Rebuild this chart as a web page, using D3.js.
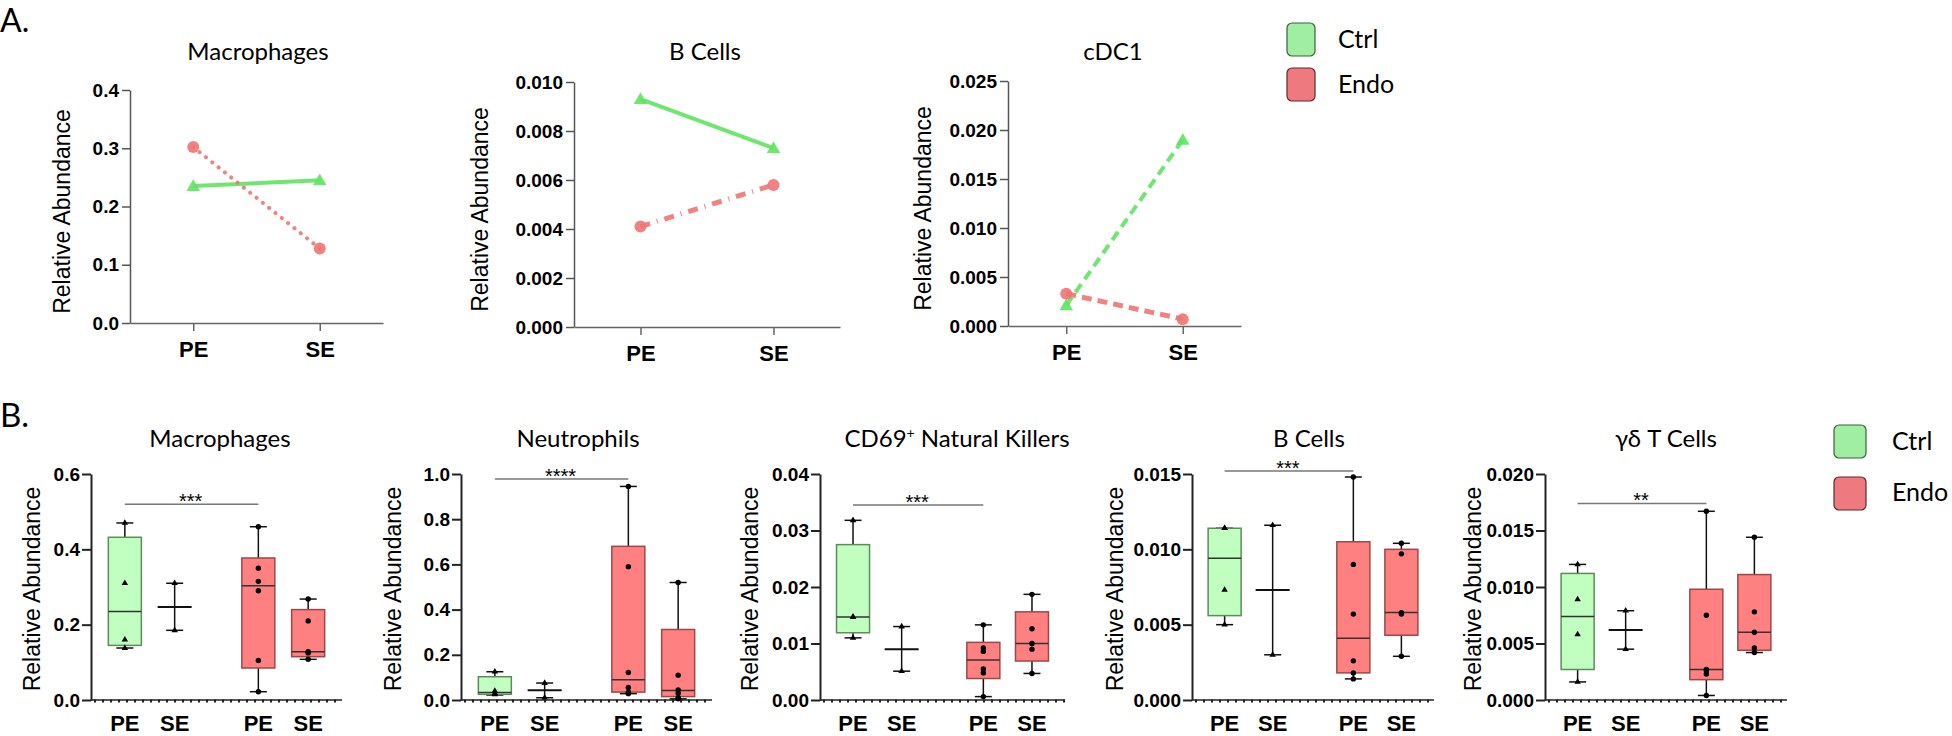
<!DOCTYPE html>
<html>
<head>
<meta charset="utf-8">
<script src="https://cdn.jsdelivr.net/npm/d3@7"></script>
<style>
  body { margin: 0; background: #fff; }
  svg { display: block; }
</style>
</head>
<body>
<div class="main"></div>
<script>
// ---- data: panel A (group means) ----
var lineCats = ["PE", "SE"];
var lineTitles = ["Macrophages", "B Cells", "cDC1"];
var lineCtrl = [[0.235, 0.245], [0.0093, 0.0073], [0.0021, 0.019]];
var lineEndo = [[0.302, 0.128], [0.0041, 0.0058], [0.0033, 0.0007]];
var lineYMax = [0.4, 0.010, 0.025];
var lineTicks = [
  [0, 0.1, 0.2, 0.3, 0.4],
  [0, 0.002, 0.004, 0.006, 0.008, 0.010],
  [0, 0.005, 0.010, 0.015, 0.020, 0.025]
];
var lineTickFmt = [".1f", ".3f", ".3f"];

// ---- data: panel B (box plots) ----
var groups = ["Ctrl", "Endo"];
var timepoints = ["PE", "SE"];
var boxTitles = ["Macrophages", "Neutrophils", "CD69+ Natural Killers", "B Cells", "γδ T Cells"];
var boxYMax = [0.6, 1.0, 0.04, 0.015, 0.02];
var boxTickStep = [0.2, 0.2, 0.01, 0.005, 0.005];
var boxTickFmt = [".1f", ".1f", ".2f", ".3f", ".3f"];
// [min, q1, median, q3, max] for Ctrl-PE, Ctrl-SE, Endo-PE, Endo-SE
var boxStats = [
  [[0.138, 0.145, 0.235, 0.432, 0.47], [0.185, null, 0.247, null, 0.31], [0.022, 0.085, 0.303, 0.377, 0.46], [0.108, 0.115, 0.128, 0.24, 0.268]],
  [[0.022, 0.025, 0.033, 0.103, 0.125], [0.01, null, 0.043, null, 0.075], [0.028, 0.035, 0.09, 0.68, 0.945], [0.005, 0.015, 0.042, 0.312, 0.52]],
  [[0.011, 0.0119, 0.0147, 0.0275, 0.0318], [0.0051, null, 0.009, null, 0.013], [0.0006, 0.0038, 0.0071, 0.0102, 0.0133], [0.0047, 0.0069, 0.01, 0.0156, 0.0187]],
  [[0.005, 0.0056, 0.0094, 0.0114, 0.0114], [0.003, null, 0.0073, null, 0.0116], [0.0014, 0.0018, 0.0041, 0.0105, 0.0148], [0.0029, 0.0043, 0.0058, 0.01, 0.0104]],
  [[0.0016, 0.0027, 0.0074, 0.0112, 0.012], [0.0045, null, 0.0062, null, 0.0079], [0.0004, 0.0018, 0.0027, 0.0098, 0.0167], [0.0042, 0.0044, 0.006, 0.0111, 0.0144]]
];
var boxPoints = [
  [[0.47, 0.31, 0.16, 0.138], [0.31, 0.185], [0.46, 0.35, 0.315, 0.29, 0.105, 0.022], [0.268, 0.21, 0.128, 0.125, 0.108]],
  [[0.125, 0.04, 0.03, 0.025], [0.075, 0.01], [0.945, 0.59, 0.122, 0.055, 0.035, 0.028], [0.52, 0.11, 0.045, 0.03, 0.01, 0.005]],
  [[0.0318, 0.0147, 0.0147, 0.011], [0.013, 0.0051], [0.0133, 0.0092, 0.0086, 0.0055, 0.0048, 0.0006], [0.0187, 0.0126, 0.01, 0.009, 0.0047]],
  [[0.0114, 0.0114, 0.0073, 0.005], [0.0116, 0.003], [0.0148, 0.009, 0.0057, 0.0026, 0.0018, 0.0014], [0.0104, 0.0097, 0.0058, 0.0057, 0.0029]],
  [[0.012, 0.0089, 0.0058, 0.0016], [0.0079, 0.0045], [0.0167, 0.0075, 0.0027, 0.0026, 0.0023, 0.0004], [0.0144, 0.0078, 0.006, 0.0046, 0.0042]]
];
var sigLevel = [0.52, 0.978, 0.0345, 0.0152, 0.0174];
var sigStars = ["***", "****", "***", "***", "**"];

// ---- layout ----
var W = 1952, H = 736;
var lineLayout = [
  {ax: 130, w: 253, top: 90, bottom: 323, titleX: 258, labelX: 62, ctrlDash: null, endoDash: "0.1,8"},
  {ax: 574, w: 266, top: 82, bottom: 327, titleX: 705, labelX: 480, ctrlDash: null, endoDash: "10,7,1,7"},
  {ax: 1008, w: 233, top: 81, bottom: 326, titleX: 1113, labelX: 923, ctrlDash: "10,6", endoDash: "10,6"}
];
var boxLayout = [
  {ax: 91, w: 251, titleX: 220, labelX: 32},
  {ax: 461, w: 251, titleX: 578, labelX: 393},
  {ax: 820, w: 245, titleX: 957, labelX: 750},
  {ax: 1192, w: 242, titleX: 1309, labelX: 1115},
  {ax: 1545, w: 242, titleX: 1666, labelX: 1473}
];
var boxTop = 474, boxBottom = 700;

var lineGreen = "#5fe35f", lineRed = "#f07474";
var boxFill = {Ctrl: "#c0ffc0", Endo: "#ff8080"};
var boxStroke = {Ctrl: "#5e8a5e", Endo: "#9a4848"};
var legendFill = {Ctrl: "#a0eea2", Endo: "#ee7a80"};
var legendStroke = {Ctrl: "#3f5f3f", Endo: "#5a2a2a"};

var titleFont = "Lato, 'Open Sans', sans-serif";
var armFont = "'Liberation Sans', Arial, sans-serif";
var narrowFont = "'Liberation Sans Narrow', 'Liberation Sans', Arial, sans-serif";

var svg = d3.select(".main").append("svg")
    .attr("width", W)
    .attr("height", H)
    .style("background", "#fff");

// panel letters
svg.append("text").attr("x", 0).attr("y", 32).text("A.")
    .style("font-family", titleFont).style("font-size", "32px");
svg.append("text").attr("x", 0).attr("y", 427).text("B.")
    .style("font-family", titleFont).style("font-size", "33px");

// ============ panel A ============
lineLayout.forEach(function(L, i) {
  var g = svg.append("g");
  var y = d3.scaleLinear().domain([0, lineYMax[i]]).range([L.bottom, L.top]);
  var x = d3.scalePoint().domain(lineCats).range([L.ax, L.ax + L.w]).padding(0.5);

  var ya = g.append("g")
      .attr("transform", "translate(" + L.ax + ",0)")
      .call(d3.axisLeft(y).tickValues(lineTicks[i]).tickFormat(d3.format(lineTickFmt[i]))
            .tickSize(8).tickPadding(3).tickSizeOuter(0));
  ya.selectAll("path,line").attr("stroke", "#555").attr("stroke-width", 1.5);
  ya.selectAll("text").style("font-family", narrowFont).style("font-size", "19px")
      .style("font-weight", "700").attr("fill", "#000");

  var xa = g.append("g")
      .attr("transform", "translate(0," + L.bottom + ")")
      .call(d3.axisBottom(x).tickSize(8).tickPadding(10).tickSizeOuter(0));
  xa.selectAll("path,line").attr("stroke", "#666").attr("stroke-width", 1.5);
  xa.selectAll("text").style("font-family", narrowFont).style("font-size", "22px")
      .style("font-weight", "700").attr("fill", "#000");

  g.append("text")
      .attr("x", L.titleX).attr("y", 60)
      .attr("text-anchor", "middle")
      .text(lineTitles[i])
      .style("font-family", titleFont).style("font-size", "24px");

  g.append("text")
      .attr("transform", "translate(" + L.labelX + "," + ((L.top + L.bottom) / 2 + 5) + ") rotate(-90)")
      .attr("text-anchor", "middle").attr("dy", "0.35em")
      .text("Relative Abundance")
      .style("font-family", armFont).style("font-size", "23px");

  var line = d3.line().x(function(d, j) { return x(lineCats[j]); }).y(function(d) { return y(d); });

  // Ctrl
  g.append("path").datum(lineCtrl[i])
      .attr("d", line).attr("fill", "none")
      .attr("stroke", lineGreen).attr("stroke-width", 4).attr("stroke-opacity", 0.9)
      .attr("stroke-dasharray", L.ctrlDash);
  // Endo
  g.append("path").datum(lineEndo[i])
      .attr("d", line).attr("fill", "none")
      .attr("stroke", lineRed).attr("stroke-width", L.endoDash == "0.1,8" ? 4 : 5)
      .attr("stroke-linecap", L.endoDash == "0.1,8" ? "round" : "butt")
      .attr("stroke-opacity", 0.9)
      .attr("stroke-dasharray", L.endoDash);

  g.selectAll(".tri").data(lineCtrl[i]).enter().append("path")
      .attr("transform", function(d, j) { return "translate(" + x(lineCats[j]) + "," + (y(d) + 1) + ")"; })
      .attr("d", d3.symbol(d3.symbolTriangle, 80))
      .attr("fill", lineGreen).attr("fill-opacity", 0.9);
  g.selectAll(".dot").data(lineEndo[i]).enter().append("circle")
      .attr("cx", function(d, j) { return x(lineCats[j]); })
      .attr("cy", function(d) { return y(d); })
      .attr("r", 6)
      .attr("fill", lineRed).attr("fill-opacity", 0.9);
});

// legend A
groups.forEach(function(gr, k) {
  svg.append("rect").attr("x", 1287).attr("y", 23 + k * 45).attr("width", 28).attr("height", 33)
      .attr("rx", 5).attr("fill", legendFill[gr]).attr("stroke", legendStroke[gr]).attr("stroke-width", 1.2);
  svg.append("text").attr("x", 1338).attr("y", 39 + k * 45).attr("dy", "0.35em").text(gr)
      .style("font-family", titleFont).style("font-size", "25px");
});

// ============ panel B ============
boxLayout.forEach(function(L, p) {
  var g = svg.append("g");
  var y = d3.scaleLinear().domain([0, boxYMax[p]]).range([boxBottom, boxTop]);
  var outer = d3.scaleBand().domain(groups).range([L.ax, L.ax + L.w]).paddingInner(0.5).paddingOuter(0.19);
  var inner = d3.scalePoint().domain(timepoints).range([0, outer.bandwidth()]).padding(0.17);
  var cx = function(gr, t) { return outer(gr) + inner(t); };

  var ticks = d3.range(0, boxYMax[p] + boxTickStep[p] / 2, boxTickStep[p]);
  var ya = g.append("g")
      .attr("transform", "translate(" + L.ax + ",0)")
      .call(d3.axisLeft(y).tickValues(ticks).tickFormat(d3.format(boxTickFmt[p]))
            .tickSize(9).tickPadding(2).tickSizeOuter(0));
  ya.selectAll("path,line").attr("stroke", "#222").attr("stroke-width", 2);
  ya.selectAll("text").style("font-family", narrowFont).style("font-size", "19px")
      .style("font-weight", "700").attr("fill", "#000");

  // baseline
  g.append("line").attr("x1", L.ax).attr("x2", L.ax + L.w)
      .attr("y1", y(0)).attr("y2", y(0)).attr("stroke", "#222").attr("stroke-width", 1.5);
  g.append("line").attr("x1", L.ax + 3).attr("x2", L.ax + L.w)
      .attr("y1", y(0) + 1).attr("y2", y(0) + 1).attr("stroke", "#222").attr("stroke-width", 3)
      .attr("stroke-dasharray", "2,6");

  // title
  var tt = g.append("text")
      .attr("x", L.titleX).attr("y", 447)
      .attr("text-anchor", "middle")
      .style("font-family", titleFont).style("font-size", "24px");
  if (boxTitles[p].indexOf("+") > 0) {
    var parts = boxTitles[p].split("+");
    tt.append("tspan").text(parts[0]);
    tt.append("tspan").text("+").attr("dy", -9).style("font-size", "14px");
    tt.append("tspan").text(parts[1]).attr("dy", 9);
  } else {
    tt.text(boxTitles[p]);
  }

  g.append("text")
      .attr("transform", "translate(" + L.labelX + "," + ((boxTop + boxBottom) / 2 + 2) + ") rotate(-90)")
      .attr("text-anchor", "middle").attr("dy", "0.35em")
      .text("Relative Abundance")
      .style("font-family", armFont).style("font-size", "23px");

  // boxes
  var series = [];
  groups.forEach(function(gr) { timepoints.forEach(function(t) { series.push({gr: gr, t: t}); }); });
  series.forEach(function(s, k) {
    var st = boxStats[p][k];
    var c = cx(s.gr, s.t);
    g.append("line").attr("x1", c).attr("x2", c).attr("y1", y(st[0])).attr("y2", y(st[4]))
        .attr("stroke", "#111").attr("stroke-width", 1.5);
    [st[0], st[4]].forEach(function(v) {
      g.append("line").attr("x1", c - 8.5).attr("x2", c + 8.5).attr("y1", y(v)).attr("y2", y(v))
          .attr("stroke", "#111").attr("stroke-width", 1.5);
    });
    if (st[1] != null) {
      g.append("rect").attr("x", c - 16.5).attr("width", 33)
          .attr("y", y(st[3])).attr("height", y(st[1]) - y(st[3]))
          .attr("fill", boxFill[s.gr]).attr("stroke", boxStroke[s.gr]).attr("stroke-width", 1.5);
      g.append("line").attr("x1", c - 16.5).attr("x2", c + 16.5).attr("y1", y(st[2])).attr("y2", y(st[2]))
          .attr("stroke", "#333").attr("stroke-width", 1.5);
    } else {
      g.append("line").attr("x1", c - 17).attr("x2", c + 17).attr("y1", y(st[2])).attr("y2", y(st[2]))
          .attr("stroke", "#111").attr("stroke-width", 2);
    }
    var pts = boxPoints[p][k];
    if (s.gr == "Ctrl") {
      g.selectAll(null).data(pts).enter().append("path")
          .attr("transform", function(d) { return "translate(" + c + "," + y(d) + ")"; })
          .attr("d", d3.symbol(d3.symbolTriangle, 18))
          .attr("fill", "#000");
    } else {
      g.selectAll(null).data(pts).enter().append("circle")
          .attr("cx", c).attr("cy", function(d) { return y(d); }).attr("r", 2.7)
          .attr("fill", "#000");
    }
  });

  // x labels
  series.forEach(function(s) {
    g.append("text").attr("x", cx(s.gr, s.t)).attr("y", boxBottom + 31)
        .attr("text-anchor", "middle").text(s.t)
        .style("font-family", narrowFont).style("font-size", "22px").style("font-weight", "700");
  });

  // significance
  var sy = y(sigLevel[p]);
  var x1 = cx("Ctrl", "PE"), x2 = cx("Endo", "PE");
  g.append("line").attr("x1", x1).attr("x2", x2).attr("y1", sy).attr("y2", sy)
      .attr("stroke", "#777").attr("stroke-width", 1.5);
  g.append("text").attr("x", (x1 + x2) / 2 - 1).attr("y", sy + 4)
      .attr("text-anchor", "middle").text(sigStars[p])
      .style("font-family", armFont).style("font-size", "20px");
});

// legend B
groups.forEach(function(gr, k) {
  svg.append("rect").attr("x", 1834).attr("y", 425 + k * 52).attr("width", 32).attr("height", 33)
      .attr("rx", 5).attr("fill", legendFill[gr]).attr("stroke", legendStroke[gr]).attr("stroke-width", 1.2);
  svg.append("text").attr("x", 1892).attr("y", 441 + k * 51).attr("dy", "0.35em").text(gr)
      .style("font-family", titleFont).style("font-size", "25px");
});
</script>
</body>
</html>
